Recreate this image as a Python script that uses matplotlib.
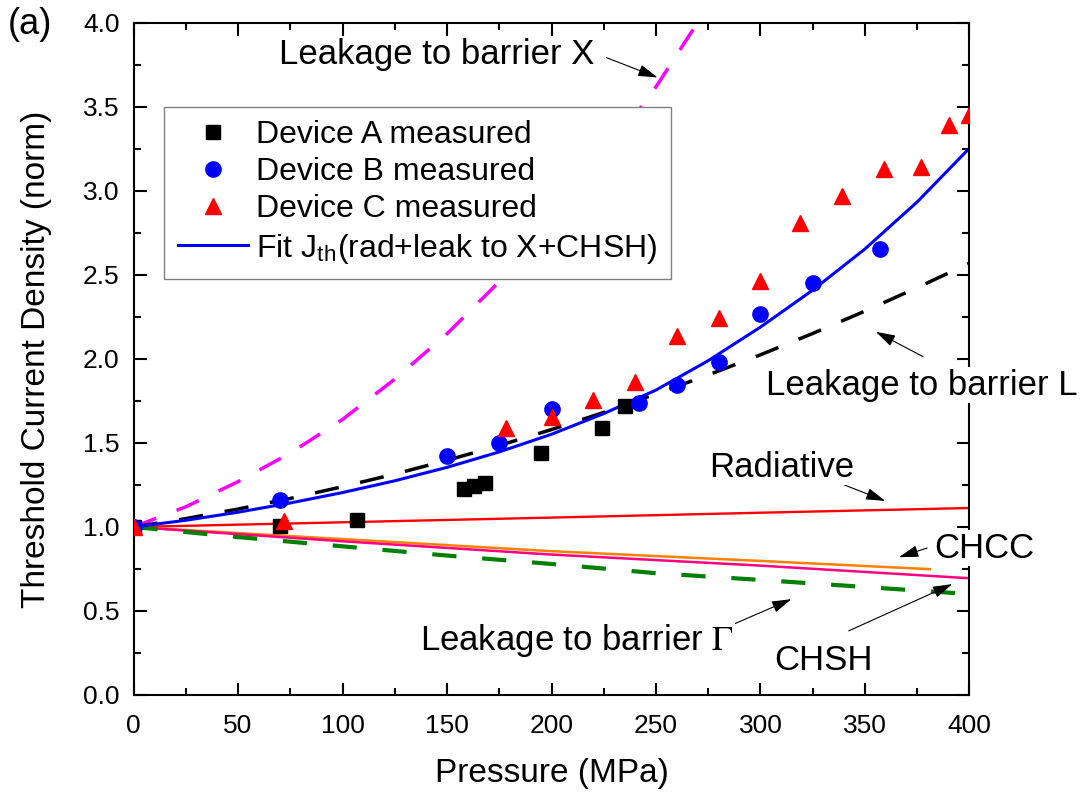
import numpy as np
import matplotlib.pyplot as plt
from matplotlib.ticker import MultipleLocator

plt.rcParams['font.family'] = ['Liberation Sans', 'DejaVu Sans']
plt.rcParams['mathtext.fontset'] = 'stix'

# measured threshold current densities (normalised)
p_A = [0, 70, 107, 158, 163, 168, 195, 224, 235]
j_A = [1.0, 1.005, 1.04, 1.225, 1.245, 1.26, 1.44, 1.59, 1.72]

p_B = [0, 70, 150, 175, 200, 242, 260, 280, 300, 325, 357]
j_B = [1.0, 1.16, 1.425, 1.50, 1.70, 1.74, 1.845, 1.985, 2.265, 2.455, 2.655]

p_C = [0, 72, 178, 200, 220, 240, 260, 280, 300, 319, 339, 359, 377, 390, 400]
j_C = [1.0, 1.035, 1.59, 1.655, 1.755, 1.865, 2.135, 2.245, 2.465, 2.81,
       2.97, 3.13, 3.14, 3.395, 3.455]

# model curves
p_curve = [0, 25, 50, 75, 100, 125, 150, 175, 200, 225, 250, 275, 300,
           325, 350, 375, 400]
j_fit = [1.00, 1.04, 1.088, 1.143, 1.205, 1.275, 1.355, 1.447, 1.552,
         1.675, 1.815, 1.99, 2.19, 2.41, 2.655, 2.935, 3.255]
j_leak_L = [1.00, 1.05, 1.107, 1.17, 1.24, 1.315, 1.397, 1.485, 1.58,
            1.682, 1.792, 1.905, 2.025, 2.152, 2.285, 2.425, 2.57]

p_leak_X = [0, 25, 50, 75, 100, 125, 150, 175, 200, 225, 250, 275]
j_leak_X = [1.00, 1.12, 1.27, 1.44, 1.64, 1.88, 2.15, 2.46, 2.81, 3.20,
            3.62, 4.10]

p_rad = [0, 100, 200, 300, 400]
j_rad = [1.0, 1.028, 1.056, 1.085, 1.113]

p_chcc = [0, 100, 200, 300, 381]
j_chcc = [1.0, 0.928, 0.856, 0.798, 0.749]

p_chsh = [0, 100, 200, 300, 400]
j_chsh = [1.0, 0.915, 0.836, 0.77, 0.695]

p_leak_G = [0, 50, 100, 150, 200, 250, 300, 350, 395]
j_leak_G = [1.0, 0.94, 0.885, 0.83, 0.78, 0.725, 0.685, 0.643, 0.605]

fig = plt.figure(figsize=(10.91, 8), dpi=100)
ax = fig.add_axes([0.1224, 0.13125, 0.7662, 0.84])

ax.plot(p_leak_X, j_leak_X, color='#FF00FF', lw=2.5, dashes=(7, 6.3))
ax.plot(p_curve, j_leak_L, color='black', lw=2.5, dashes=(7, 6.3))
ax.plot(p_rad, j_rad, color='#FF0000', lw=1.7)
ax.plot(p_chcc, j_chcc, color='#FF8000', lw=1.8)
ax.plot(p_chsh, j_chsh, color='#FF0080', lw=1.8)
ax.plot(p_leak_G, j_leak_G, color='#008000', lw=3, dashes=(5.8, 6.2))
h_fit, = ax.plot(p_curve, j_fit, color='#0000FF', lw=2.2)

h_A, = ax.plot(p_A, j_A, 's', color='black', ms=10, zorder=4)
h_B, = ax.plot(p_B, j_B, 'o', color='#0000FF', ms=11, zorder=4)
h_C, = ax.plot(p_C, j_C, '^', color='#FF0000', ms=12, zorder=4)

ax.set_xlim(0, 400)
ax.set_ylim(0, 4)
ax.xaxis.set_major_locator(MultipleLocator(50))
ax.xaxis.set_minor_locator(MultipleLocator(25))
ax.yaxis.set_major_locator(MultipleLocator(0.5))
ax.yaxis.set_minor_locator(MultipleLocator(0.25))
ax.xaxis.set_major_formatter(lambda v, pos: '%d' % v)
ax.yaxis.set_major_formatter(lambda v, pos: '%.1f' % v)
ax.tick_params(which='both', direction='in', top=True, right=True,
               width=1.5, labelsize=19, pad=10)
ax.tick_params(axis='x', which='major', pad=14)
ax.tick_params(which='major', length=9)
ax.tick_params(which='minor', length=5)
for s in ax.spines.values():
    s.set_linewidth(1.5)

ax.set_xlabel('Pressure (MPa)', fontsize=24, labelpad=14)
ax.set_ylabel('Threshold Current Density (norm)', fontsize=24, labelpad=22)

leg = ax.legend([h_A, h_B, h_C, h_fit],
                ['Device A measured', 'Device B measured', 'Device C measured',
                 'Fit J$_\\mathregular{th}$(rad+leak to X+CHSH)'],
                loc='upper left', bbox_to_anchor=(0.037, 0.875),
                borderaxespad=0, fontsize=23, handlelength=2.2,
                handletextpad=0.25, labelspacing=0.22, borderpad=0.42,
                fancybox=False, framealpha=1, edgecolor='#808080')
leg.get_frame().set_linewidth(1.0)

arrow = dict(arrowstyle='-|>,head_length=0.6,head_width=0.18',
             color='black', lw=0.8, mutation_scale=20)
notes = [
    ('Leakage to barrier X', (145, 3.81), (225, 3.80), (252, 3.67)),
    ('Leakage to barrier L', (377, 1.845), (379, 2.006), (354, 2.17)),
    ('Radiative', (310, 1.357), (334, 1.28), (361, 1.149)),
    ('CHCC', (407, 0.875), (381, 0.88), (365, 0.815)),
    ('Leakage to barrier $\\Gamma$', (212, 0.327), (285, 0.41), (316, 0.577)),
    ('CHSH', (330, 0.208), (341, 0.375), (393, 0.667)),
]
for txt, xy_txt, tail, head in notes:
    ax.annotate('', xy=head, xytext=tail, arrowprops=arrow,
                annotation_clip=False)
    ax.text(xy_txt[0], xy_txt[1], txt, fontsize=25, ha='center', va='center',
            zorder=6, clip_on=False,
            bbox=dict(facecolor='white', edgecolor='none', pad=1))

fig.text(0.007, 0.969, '(a)', fontsize=26, ha='left', va='center')

fig.savefig('out.png', dpi=100)
